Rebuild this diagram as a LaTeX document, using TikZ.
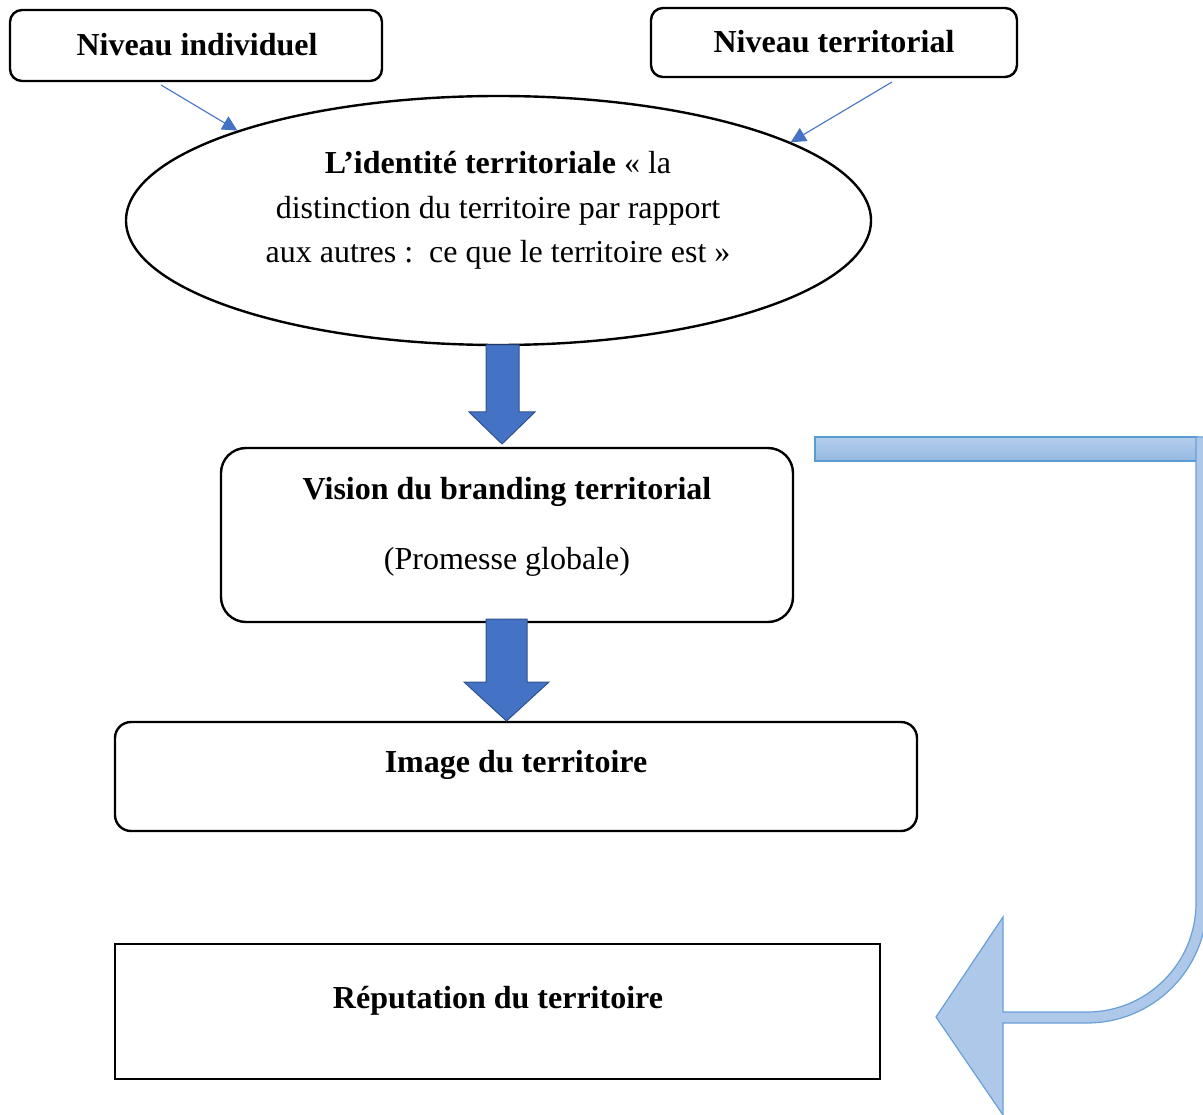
\documentclass[tikz,border=0pt]{standalone}
\usepackage{fontspec}
\setmainfont{Liberation Serif}
\usetikzlibrary{arrows.meta,shapes.geometric}
\definecolor{arrowblue}{HTML}{4472C4}
\definecolor{arrowedge}{HTML}{2F528F}
\definecolor{lightfill}{HTML}{ADC8E8}
\definecolor{lightedge}{HTML}{6A9FD8}
\definecolor{bartop}{HTML}{B5CEEB}
\definecolor{barbot}{HTML}{94B8E2}
\definecolor{baredge}{HTML}{5B9BD5}
\begin{document}
\begin{tikzpicture}[x=1pt,y=-1pt,
  box/.style={draw=black,line width=2.4pt,rounded corners=12pt,inner sep=0pt},
  txt/.style={anchor=base,inner sep=0pt,font=\fontsize{32}{44.5}\selectfont},
  thinarrow/.style={draw=arrowblue,line width=1.1pt,-{Triangle[length=15pt,width=15pt]}},
  blockarrow/.style={fill=arrowblue,draw=arrowedge,line width=1pt},
  bendarrow/.style={fill=lightfill,draw=lightedge,line width=1.2pt}]
\useasboundingbox (0,0) rectangle (1203,1115);

% boxes
\node[box,minimum width=372pt,minimum height=71pt] (indiv) at (196,45.5) {};
\node[box,minimum width=366pt,minimum height=69pt] (terr) at (834,42.5) {};
\node[draw=black,line width=2.4pt,ellipse,inner sep=0pt,minimum width=745pt,minimum height=249pt] (ident) at (498.5,220.5) {};
\node[box,rounded corners=25pt,minimum width=572pt,minimum height=174pt] (vision) at (507,535) {};
\node[box,rounded corners=16pt,minimum width=802pt,minimum height=109pt] (image) at (516,776.5) {};
\node[draw=black,line width=2.4pt,inner sep=0pt,minimum width=765pt,minimum height=135pt] (reput) at (497.5,1011.5) {};

% texts
\node[txt] (t1) at (197,56) {\textbf{Niveau individuel}};
\node[txt] (t2) at (834,53) {\textbf{Niveau territorial}};
\node[txt] (t3) at (498,174) {\textbf{L’identité territoriale} «~la};
\node[txt] (t4) at (498,219) {distinction du territoire par rapport};
\node[txt] (t5) at (498,263) {aux autres :~~ce que le territoire est~»};
\node[txt] (t6) at (507,499) {\textbf{Vision du branding territorial}};
\node[txt] (t7) at (507,569) {(Promesse globale)};
\node[txt] (t8) at (516,772) {\textbf{Image du territoire}};
\node[txt] (t9) at (498,1008) {\textbf{Réputation du territoire}};

% thin arrows
\coordinate (s1) at (161,85);
\coordinate (s2) at (892,82);
\draw[thinarrow] (s1) -- (ident.161.7);
\draw[thinarrow] (s2) -- (ident.15);

% block arrows
\draw[blockarrow] (486,345) -- (519,345) -- (519,412) -- (535,412) -- (502,444) -- (469,412) -- (486,412) -- cycle;
\draw[blockarrow] (486,619) -- (527,619) -- (527,682) -- (549,682) -- (506.5,721) -- (464,682) -- (486,682) -- cycle;

% bent arrow
\draw[top color=bartop,bottom color=barbot,draw=baredge,line width=1.2pt] (815,437) rectangle (1197,461);
\draw[bendarrow] (1196,437) -- (1196,903)
  .. controls (1196,963.2) and (1147.2,1012) .. (1087,1012)
  -- (1003,1012) -- (1003,917) -- (936,1017) -- (1003,1115) -- (1003,1023) -- (1087,1023)
  .. controls (1153.3,1023) and (1207,969.3) .. (1207,903)
  -- (1207,437) -- cycle;
\end{tikzpicture}
\end{document}
